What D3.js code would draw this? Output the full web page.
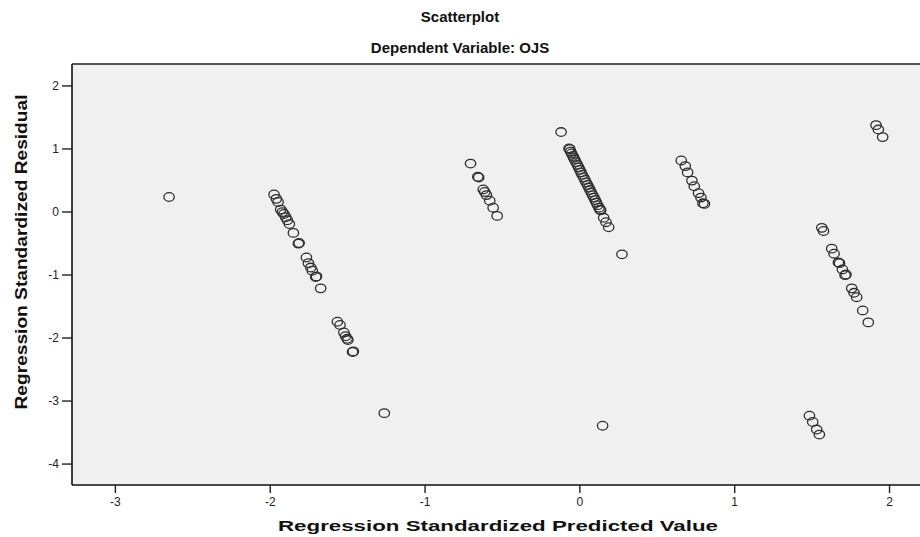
<!DOCTYPE html>
<html><head><meta charset="utf-8">
<script src="https://cdn.jsdelivr.net/npm/d3@7/dist/d3.min.js"></script>
<style>body{margin:0;background:#fff} svg{display:block}</style>
</head><body><svg id="c" width="920" height="537"></svg>
<script>
const title = "Scatterplot";
const subtitle = "Dependent Variable: OJS";
const xLabel = "Regression Standardized Predicted Value";
const yLabel = "Regression Standardized Residual";
const xTicks = [-3, -2, -1, 0, 1, 2];
const yTicks = [2, 1, 0, -1, -2, -3, -4];

const predicted = [
  -2.65,
  -1.972, -1.957, -1.946, -1.929, -1.918, -1.908, -1.897, -1.886, -1.873, -1.847, -1.815, -1.810,
  -1.763, -1.750, -1.735, -1.725, -1.703, -1.698, -1.671,
  -1.563, -1.546, -1.521, -1.510, -1.495, -1.500, -1.465, -1.460,
  -1.26,
  -0.703, -0.656, -0.650, -0.621, -0.611, -0.600, -0.579, -0.557, -0.531,
  -0.118,
  -0.067, -0.062, -0.057, -0.050, -0.042, -0.036, -0.030, -0.022, -0.013, -0.005, 0.003, 0.011, 0.019, 0.028,
  0.036, 0.044, 0.053, 0.061, 0.069, 0.077, 0.085, 0.094, 0.102, 0.110, 0.118, 0.127, 0.133, 0.138,
  0.157, 0.172, 0.189, 0.275, 0.150,
  0.658, 0.684, 0.699, 0.727, 0.742, 0.770, 0.785, 0.798, 0.808,
  1.916, 1.931, 1.959,
  1.566, 1.577, 1.630, 1.645, 1.673, 1.680, 1.699, 1.716, 1.722, 1.759, 1.774, 1.791, 1.830, 1.866,
  1.486, 1.507, 1.533, 1.550
];
const residual = [
  0.23,
  0.27, 0.20, 0.15, 0.03, -0.01, -0.04, -0.09, -0.14, -0.20, -0.34, -0.51, -0.50,
  -0.73, -0.82, -0.89, -0.94, -1.04, -1.03, -1.22,
  -1.75, -1.80, -1.92, -1.98, -2.04, -2.02, -2.23, -2.22,
  -3.20,
  0.76, 0.55, 0.54, 0.35, 0.31, 0.26, 0.17, 0.06, -0.07,
  1.26,
  1.00, 0.99, 0.95, 0.92, 0.88, 0.85, 0.82, 0.78, 0.74, 0.70, 0.66, 0.62, 0.58, 0.54,
  0.50, 0.46, 0.42, 0.38, 0.34, 0.30, 0.26, 0.22, 0.18, 0.14, 0.10, 0.06, 0.03, 0.02,
  -0.10, -0.17, -0.25, -0.68, -3.40,
  0.81, 0.72, 0.62, 0.49, 0.40, 0.29, 0.22, 0.13, 0.12,
  1.37, 1.30, 1.18,
  -0.26, -0.31, -0.59, -0.67, -0.81, -0.82, -0.92, -1.01, -1.00, -1.22, -1.29, -1.36, -1.57, -1.76,
  -3.24, -3.34, -3.46, -3.54
];

const svg = d3.select("#c");
const L = 72, R = 920, T = 64, B = 485;
const x = d3.scaleLinear().domain([-3.277, 2.2]).range([L, R]);
const y = d3.scaleLinear().domain([-4.34, 2.34]).range([B, T]);
const font = "'Liberation Sans', Arial, sans-serif";
const fmt = d => String(d);

svg.append("rect").attr("x", L).attr("y", T).attr("width", R - L).attr("height", B - T).attr("fill", "#f0f0f0");

// Points (slightly wider than tall, as in the reference)
const pts = predicted.map((p, i) => ({ p, r: residual[i] }));
svg.append("g").selectAll("ellipse").data(pts).join("ellipse")
  .attr("cx", d => x(d.p)).attr("cy", d => y(d.r)).attr("rx", 5.2).attr("ry", 4.3)
  .attr("fill", "none").attr("stroke", "#2e2e2e").attr("stroke-width", 1.3);

// Borders
svg.append("line").attr("x1", L).attr("x2", R).attr("y1", T).attr("y2", T).attr("stroke", "#555").attr("stroke-width", 2);
svg.append("line").attr("x1", L).attr("x2", L).attr("y1", T).attr("y2", B).attr("stroke", "#111").attr("stroke-width", 1.6);
svg.append("line").attr("x1", L).attr("x2", R).attr("y1", B).attr("y2", B).attr("stroke", "#111").attr("stroke-width", 1.6);

// Axes
const xAxis = svg.append("g").attr("transform", `translate(0,${B})`)
  .call(d3.axisBottom(x).tickValues(xTicks).tickSize(8).tickPadding(3).tickFormat(fmt));
const yAxis = svg.append("g").attr("transform", `translate(${L},0)`)
  .call(d3.axisLeft(y).tickValues(yTicks).tickSize(10).tickPadding(3).tickFormat(fmt));
[xAxis, yAxis].forEach(a => {
  a.select(".domain").remove();
  a.selectAll(".tick line").attr("stroke", "#222").attr("stroke-width", 1.4);
  a.selectAll(".tick text").attr("fill", "#222").style("font-family", font).style("font-size", "12px");
});
xAxis.selectAll(".tick text").attr("dy", "0.8em");

// Titles
svg.append("text").attr("x", 460).attr("y", 22).attr("text-anchor", "middle")
  .style("font-family", font).style("font-weight", "bold").style("font-size", "15px").attr("fill", "#111").text(title);
svg.append("text").attr("x", 460).attr("y", 53).attr("text-anchor", "middle")
  .style("font-family", font).style("font-weight", "bold").style("font-size", "15px").attr("fill", "#111").text(subtitle);
svg.append("text").attr("x", 498).attr("y", 531).attr("text-anchor", "middle")
  .style("font-family", font).style("font-weight", "bold").style("font-size", "15.5px").attr("fill", "#111")
  .attr("textLength", 440).attr("lengthAdjust", "spacingAndGlyphs").text(xLabel);
svg.append("text").attr("transform", "translate(27,252) rotate(-90)").attr("text-anchor", "middle")
  .style("font-family", font).style("font-weight", "bold").style("font-size", "16px").attr("fill", "#111")
  .attr("textLength", 315).attr("lengthAdjust", "spacingAndGlyphs").text(yLabel);
</script></body></html>
